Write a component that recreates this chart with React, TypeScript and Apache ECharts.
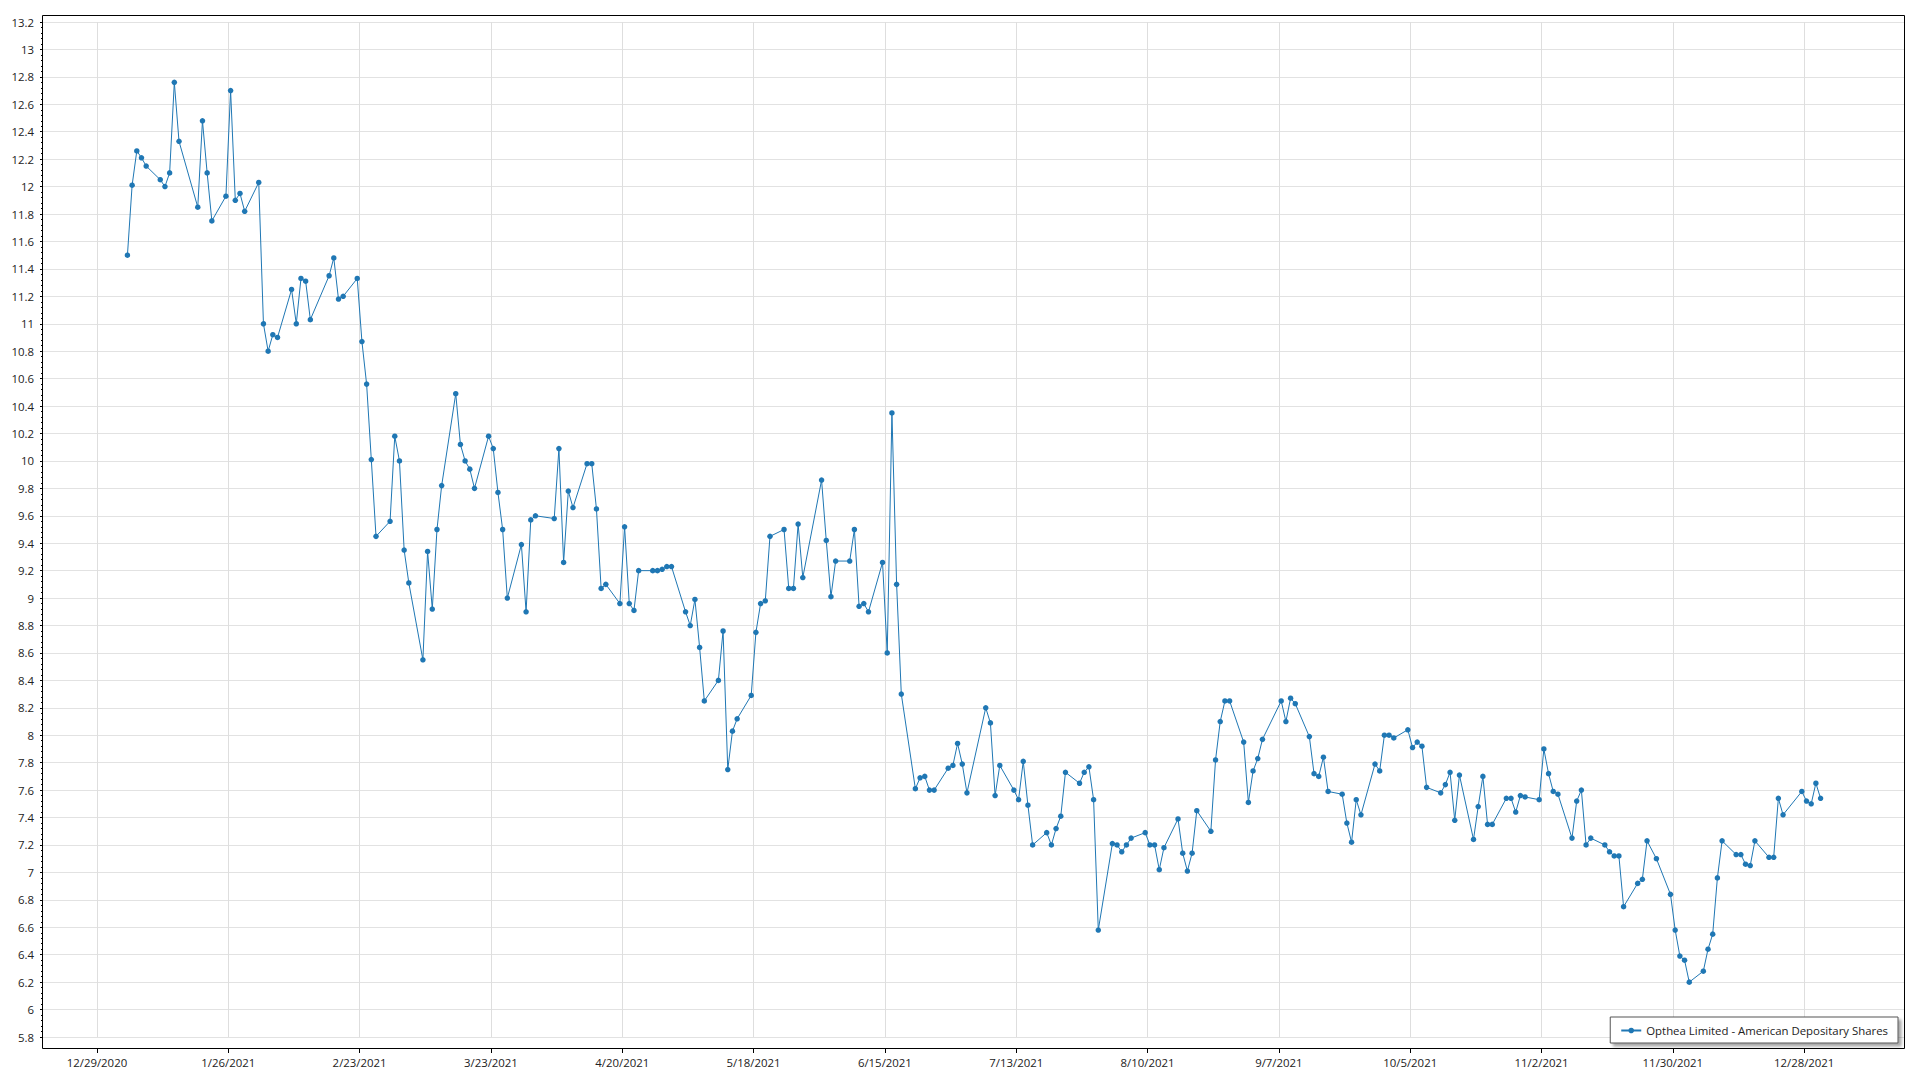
import React, { useEffect, useRef } from "react";
import * as echarts from "echarts";

const seriesName = "Opthea Limited - American Depositary Shares";

// Trading dates (2021) and closing prices, one month per line
const tradeDates: string[] = [
  "2021-01-04","2021-01-05","2021-01-06","2021-01-07","2021-01-08","2021-01-11","2021-01-12","2021-01-13","2021-01-14","2021-01-15","2021-01-19","2021-01-20","2021-01-21","2021-01-22","2021-01-25","2021-01-26","2021-01-27","2021-01-28","2021-01-29",
  "2021-02-01","2021-02-02","2021-02-03","2021-02-04","2021-02-05","2021-02-08","2021-02-09","2021-02-10","2021-02-11","2021-02-12","2021-02-16","2021-02-17","2021-02-18","2021-02-19","2021-02-22","2021-02-23","2021-02-24","2021-02-25","2021-02-26",
  "2021-03-01","2021-03-02","2021-03-03","2021-03-04","2021-03-05","2021-03-08","2021-03-09","2021-03-10","2021-03-11","2021-03-12","2021-03-15","2021-03-16","2021-03-17","2021-03-18","2021-03-19","2021-03-22","2021-03-23","2021-03-24","2021-03-25","2021-03-26","2021-03-29","2021-03-30","2021-03-31",
  "2021-04-01","2021-04-05","2021-04-06","2021-04-07","2021-04-08","2021-04-09","2021-04-12","2021-04-13","2021-04-14","2021-04-15","2021-04-16","2021-04-19","2021-04-20","2021-04-21","2021-04-22","2021-04-23","2021-04-26","2021-04-27","2021-04-28","2021-04-29","2021-04-30",
  "2021-05-03","2021-05-04","2021-05-05","2021-05-06","2021-05-07","2021-05-10","2021-05-11","2021-05-12","2021-05-13","2021-05-14","2021-05-17","2021-05-18","2021-05-19","2021-05-20","2021-05-21","2021-05-24","2021-05-25","2021-05-26","2021-05-27","2021-05-28",
  "2021-06-01","2021-06-02","2021-06-03","2021-06-04","2021-06-07","2021-06-08","2021-06-09","2021-06-10","2021-06-11","2021-06-14","2021-06-15","2021-06-16","2021-06-17","2021-06-18","2021-06-21","2021-06-22","2021-06-23","2021-06-24","2021-06-25","2021-06-28","2021-06-29","2021-06-30",
  "2021-07-01","2021-07-02","2021-07-06","2021-07-07","2021-07-08","2021-07-09","2021-07-12","2021-07-13","2021-07-14","2021-07-15","2021-07-16","2021-07-19","2021-07-20","2021-07-21","2021-07-22","2021-07-23","2021-07-26","2021-07-27","2021-07-28","2021-07-29","2021-07-30",
  "2021-08-02","2021-08-03","2021-08-04","2021-08-05","2021-08-06","2021-08-09","2021-08-10","2021-08-11","2021-08-12","2021-08-13","2021-08-16","2021-08-17","2021-08-18","2021-08-19","2021-08-20","2021-08-23","2021-08-24","2021-08-25","2021-08-26","2021-08-27","2021-08-30","2021-08-31",
  "2021-09-01","2021-09-02","2021-09-03","2021-09-07","2021-09-08","2021-09-09","2021-09-10","2021-09-13","2021-09-14","2021-09-15","2021-09-16","2021-09-17","2021-09-20","2021-09-21","2021-09-22","2021-09-23","2021-09-24","2021-09-27","2021-09-28","2021-09-29","2021-09-30",
  "2021-10-01","2021-10-04","2021-10-05","2021-10-06","2021-10-07","2021-10-08","2021-10-11","2021-10-12","2021-10-13","2021-10-14","2021-10-15","2021-10-18","2021-10-19","2021-10-20","2021-10-21","2021-10-22","2021-10-25","2021-10-26","2021-10-27","2021-10-28","2021-10-29",
  "2021-11-01","2021-11-02","2021-11-03","2021-11-04","2021-11-05","2021-11-08","2021-11-09","2021-11-10","2021-11-11","2021-11-12","2021-11-15","2021-11-16","2021-11-17","2021-11-18","2021-11-19","2021-11-22","2021-11-23","2021-11-24","2021-11-26","2021-11-29","2021-11-30",
  "2021-12-01","2021-12-02","2021-12-03","2021-12-06","2021-12-07","2021-12-08","2021-12-09","2021-12-10","2021-12-13","2021-12-14","2021-12-15","2021-12-16","2021-12-17","2021-12-20","2021-12-21","2021-12-22","2021-12-23","2021-12-27","2021-12-28","2021-12-29","2021-12-30","2021-12-31",
];

const closes: number[] = [
  11.50,12.01,12.26,12.21,12.15,12.05,12.00,12.10,12.76,12.33,11.85,12.48,12.10,11.75,11.93,12.70,11.90,11.95,11.82,
  12.03,11.00,10.80,10.92,10.90,11.25,11.00,11.33,11.31,11.03,11.35,11.48,11.18,11.20,11.33,10.87,10.56,10.01,9.45,
  9.56,10.18,10.00,9.35,9.11,8.55,9.34,8.92,9.50,9.82,10.49,10.12,10.00,9.94,9.80,10.18,10.09,9.77,9.50,9.00,9.39,8.90,9.57,
  9.60,9.58,10.09,9.26,9.78,9.66,9.98,9.98,9.65,9.07,9.10,8.96,9.52,8.96,8.91,9.20,9.20,9.20,9.21,9.23,9.23,
  8.90,8.80,8.99,8.64,8.25,8.40,8.76,7.75,8.03,8.12,8.29,8.75,8.96,8.98,9.45,9.50,9.07,9.07,9.54,9.15,
  9.86,9.42,9.01,9.27,9.27,9.50,8.94,8.96,8.90,9.26,8.60,10.35,9.10,8.30,7.61,7.69,7.70,7.60,7.60,7.76,7.78,7.94,
  7.79,7.58,8.20,8.09,7.56,7.78,7.60,7.53,7.81,7.49,7.20,7.29,7.20,7.32,7.41,7.73,7.65,7.73,7.77,7.53,6.58,
  7.21,7.20,7.15,7.20,7.25,7.29,7.20,7.20,7.02,7.18,7.39,7.14,7.01,7.14,7.45,7.30,7.82,8.10,8.25,8.25,7.95,7.51,
  7.74,7.83,7.97,8.25,8.10,8.27,8.23,7.99,7.72,7.70,7.84,7.59,7.57,7.36,7.22,7.53,7.42,7.79,7.74,8.00,8.00,
  7.98,8.04,7.91,7.95,7.92,7.62,7.58,7.64,7.73,7.38,7.71,7.24,7.48,7.70,7.35,7.35,7.54,7.54,7.44,7.56,7.55,
  7.53,7.90,7.72,7.59,7.57,7.25,7.52,7.60,7.20,7.25,7.20,7.15,7.12,7.12,6.75,6.92,6.95,7.23,7.10,6.84,6.58,
  6.39,6.36,6.20,6.28,6.44,6.55,6.96,7.23,7.13,7.13,7.06,7.05,7.23,7.11,7.11,7.54,7.42,7.59,7.52,7.50,7.65,7.54,
];

// Axis settings
const axisStartDate = "2020-12-17"; // axis begins at noon of this day
const axisEndDate = "2022-01-18";   // axis ends at noon of this day
const labelAnchorDate = "2020-12-29";
const labelStepDays = 28;
const yMin = 5.8;
const yMax = 13.2;
const yStep = 0.2;

const DAY = 86400000;
const toMs = (iso: string) => Date.parse(iso + "T00:00:00Z");
const pad = (n: number) => (n < 10 ? "0" + n : "" + n);

function buildCategories() {
  const start = toMs(axisStartDate);
  const end = toMs(axisEndDate) + DAY / 2;
  const cats: string[] = [];
  for (let t = start + DAY / 2; t <= end; t += DAY / 2) {
    const d = new Date(t);
    const iso = `${d.getUTCFullYear()}-${pad(d.getUTCMonth() + 1)}-${pad(d.getUTCDate())}`;
    cats.push(iso + (d.getUTCHours() === 0 ? "T00" : "T12"));
  }
  return cats;
}

const categories = buildCategories();
const anchorMs = toMs(labelAnchorDate);

function isLabelCat(value: string) {
  if (!value || !value.endsWith("T00")) return false;
  const days = Math.round((toMs(value.slice(0, 10)) - anchorMs) / DAY);
  return days % labelStepDays === 0;
}

function formatCat(value: string) {
  const [y, m, d] = value.slice(0, 10).split("-");
  return `${parseInt(m, 10)}/${parseInt(d, 10)}/${y}`;
}

const labelIdx = new Set<number>();
categories.forEach((c, i) => {
  if (isLabelCat(c)) labelIdx.add(i);
});
const intervalFn = (index: number) => labelIdx.has(index);

const seriesData = tradeDates.map((d, i) => [d + "T12", closes[i]]);

const FONT = "'Segoe UI', 'Open Sans', 'Noto Sans', sans-serif";
const FS = 11.4;

export default function App() {
  const ref = useRef<HTMLDivElement | null>(null);

  useEffect(() => {
    if (!ref.current) return;
    const chart = echarts.init(ref.current, undefined, { renderer: "svg" });
    chart.setOption({
      animation: false,
      backgroundColor: "#ffffff",
      textStyle: { fontFamily: FONT },
      grid: { left: 43, right: 15, top: 22, bottom: 43, containLabel: false },
      legend: {
        right: 22,
        bottom: 37,
        padding: [8, 10, 7, 10],
        itemWidth: 20,
        itemHeight: 7,
        itemGap: 6,
        backgroundColor: "#ffffff",
        borderColor: "#555555",
        borderWidth: 1,
        shadowColor: "rgba(0,0,0,0.35)",
        shadowBlur: 3,
        shadowOffsetX: 3,
        shadowOffsetY: 3,
        textStyle: { fontSize: FS, color: "#222222", fontFamily: FONT },
        data: [seriesName],
      },
      xAxis: {
        type: "category",
        data: categories,
        boundaryGap: false,
        offset: 12,
        axisLine: { show: false },
        axisTick: {
          show: true,
          interval: intervalFn,
          length: 4,
          lineStyle: { color: "#000000", width: 1 },
        },
        axisLabel: {
          interval: intervalFn,
          formatter: (v: string) => formatCat(v),
          fontSize: FS,
          color: "#222222",
          margin: 8,
          fontFamily: FONT,
        },
        splitLine: {
          show: true,
          interval: intervalFn,
          lineStyle: { color: "#dedede", width: 1 },
        },
      },
      yAxis: {
        type: "value",
        min: yMin,
        max: yMax,
        interval: yStep,
        axisLine: { show: false },
        axisTick: {
          show: true,
          length: 3,
          lineStyle: { color: "#000000", width: 1 },
        },
        minorTick: {
          show: true,
          splitNumber: 5,
          length: 2,
          lineStyle: { color: "#000000", width: 1 },
        },
        axisLabel: {
          fontSize: FS,
          color: "#222222",
          margin: 9,
          fontFamily: FONT,
          formatter: (v: number) => String(+v.toFixed(1)),
        },
        splitLine: { show: true, lineStyle: { color: "#e2e2e2", width: 1 } },
      },
      graphic: [
        {
          type: "rect",
          silent: true,
          z: 100,
          shape: { x: 42.5, y: 15.5, width: 1862, height: 1033 },
          style: { fill: "none", stroke: "#000000", lineWidth: 1 },
        },
      ],
      series: [
        {
          name: seriesName,
          type: "line",
          data: seriesData,
          symbol: "circle",
          symbolSize: 5.5,
          showSymbol: true,
          showAllSymbol: true,
          lineStyle: { color: "#1f77b4", width: 1 },
          itemStyle: { color: "#1f77b4", borderWidth: 0 },
          emphasis: { disabled: true },
        },
      ],
    });
    return () => chart.dispose();
  }, []);

  return (
    <div
      ref={ref}
      style={{ position: "fixed", left: 0, top: 0, width: 1920, height: 1080, background: "#fff" }}
    />
  );
}
